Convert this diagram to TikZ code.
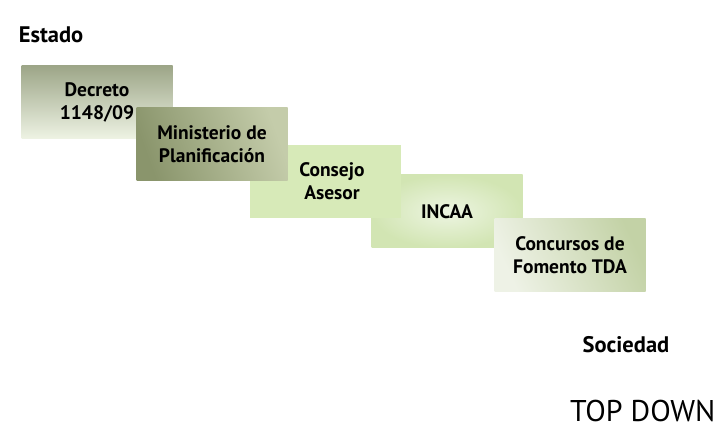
\documentclass[tikz,border=0pt]{standalone}
\usepackage{fontspec}
\setmainfont{PT Sans}
\usepackage{tikz}
\usetikzlibrary{positioning}

\definecolor{decTop}{HTML}{9DA688}
\definecolor{decBot}{HTML}{EEF3E4}
\definecolor{minDark}{HTML}{8A956C}
\definecolor{minLight}{HTML}{C4CCAA}
\definecolor{conGreen}{HTML}{D7EAB8}
\definecolor{incOut}{HTML}{D2E5B3}
\definecolor{incIn}{HTML}{EDF5E2}
\definecolor{fomLight}{HTML}{EEF2E6}
\definecolor{fomDark}{HTML}{C3D2A6}

\begin{document}
\begin{tikzpicture}[x=1pt, y=-1pt,
    stepbox/.style={rectangle, minimum width=151pt, minimum height=73pt,
      inner sep=0pt, align=center, font=\bfseries\fontsize{19.5}{23}\selectfont},
    heading/.style={font=\bfseries\fontsize{22.5}{24}\selectfont}]
   \useasboundingbox (0,0) rectangle (718,435);
   % lower steps first, so the upper ones lie on top
   \node[stepbox, inner color=incIn, outer color=incOut] (incaa) at (447,211.5) {\raisebox{-5pt}{INCAA}};
   \node[stepbox, left color=fomLight, right color=fomDark, shading angle=115] (fomento) at (570,255) {Concursos de\\Fomento TDA};
   \node[stepbox, fill=conGreen] (consejo) at (325,181.5) {\hspace*{14pt}Consejo\\\hspace*{14pt}Asesor};
   \node[stepbox, top color=decTop, bottom color=decBot] (decreto) at (97,102.5) {Decreto\\1148/09};
   \node[stepbox, left color=minDark, right color=minLight, shading angle=110] (ministerio) at (212,144.5) {Ministerio de\\Planificación};

   \node[heading] (estado) at (51,35) {Estado};
   \node[heading] (sociedad) at (626,345) {Sociedad};
   \node[font=\fontsize{30}{32}\selectfont, anchor=west, inner sep=0pt] (topdown) at (570,411) {TOP DOWN};
\end{tikzpicture}
\end{document}
